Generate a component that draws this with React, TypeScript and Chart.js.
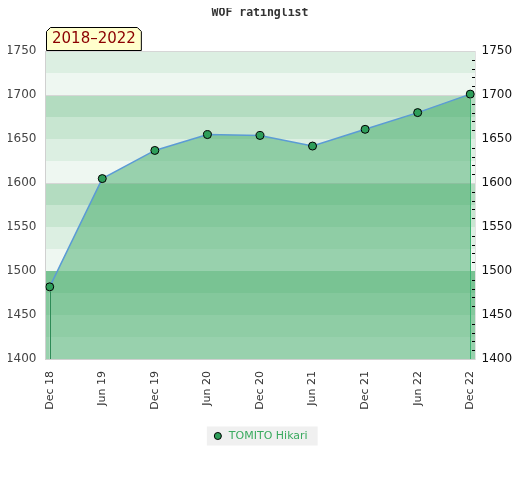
import React, { useEffect, useRef } from 'react';
import { Chart, registerables } from 'chart.js';

Chart.register(...registerables);

// ---- data ----
const categories = ['Dec 18', 'Jun 19', 'Dec 19', 'Jun 20', 'Dec 20', 'Jun 21', 'Dec 21', 'Jun 22', 'Dec 22'];
const ratings = [1482, 1605, 1637, 1655, 1654, 1642, 1661, 1680, 1701];
const seriesName = 'TOMITO Hikari';
const chartTitle = 'WOF ratinglist';
const periodLabel = '2018\u20132022';
const yMin = 1400;
const yMax = 1750;
const yStep = 50;
const threshold = 1500;

// ---- styles ----
const FONT = "'DejaVu Sans', sans-serif";
const BAND_COLORS = ['#eef7f1', '#dcefe2', '#c8e6d1', '#b3dcc0'];
const FILL = 'rgba(58,168,98,0.48)';
const LINE = '#5b9bd5';
const POINT = '#2e9e5a';

const bandPlugin = {
  id: 'bands',
  beforeDraw(chart: any) {
    const { ctx, chartArea, scales } = chart;
    const y = scales.y;
    const { left, right, bottom } = chartArea;
    ctx.save();
    for (let v = yMin; v < yMax; v += 25) {
      const top = Math.round(y.getPixelForValue(v + 25));
      const bot = Math.round(y.getPixelForValue(v));
      const idx = ((v - yMin) / 25) % 4;
      ctx.fillStyle = BAND_COLORS[idx];
      ctx.fillRect(left, top, right - left, bot - top);
    }
    // shade the zone below the threshold where the series area does not cover it
    const pts = chart.getDatasetMeta(0).data;
    if (pts.length) {
      const ty = Math.round(y.getPixelForValue(threshold));
      ctx.save();
      ctx.beginPath();
      ctx.rect(left, ty, right - left, bottom - ty);
      ctx.clip();
      ctx.beginPath();
      ctx.rect(left, ty, right - left, bottom - ty);
      ctx.moveTo(pts[0].x, bottom);
      pts.forEach((p: any) => ctx.lineTo(p.x, p.y));
      ctx.lineTo(pts[pts.length - 1].x, bottom);
      ctx.closePath();
      ctx.clip('evenodd');
      ctx.fillStyle = FILL;
      ctx.fillRect(left, ty, right - left, bottom - ty);
      ctx.restore();
    }
    // legend background
    const lg = chart.legend;
    if (lg && lg.legendHitBoxes && lg.legendHitBoxes.length) {
      const hb = lg.legendHitBoxes[0];
      const cy = hb.top + hb.height / 2;
      ctx.fillStyle = '#f0f0f0';
      ctx.fillRect(hb.left - 5.5, cy - 9.5, hb.width + 15.5, 19);
    }
    ctx.restore();
  },
  afterDatasetsDraw(chart: any) {
    const { ctx, chartArea, scales } = chart;
    const y = scales.y;
    const meta = chart.getDatasetMeta(0);
    const pts = meta.data;
    ctx.save();
    // drop lines
    const drop = (p: any, color: string) => {
      ctx.strokeStyle = color;
      ctx.lineWidth = 1;
      ctx.beginPath();
      const x = Math.round(p.x) + 0.5;
      ctx.moveTo(x, p.y + 4.5);
      ctx.lineTo(x, chartArea.bottom);
      ctx.stroke();
    };
    if (pts.length) {
      drop(pts[0], '#2e8b57');
      drop(pts[pts.length - 1], '#3cb371');
    }
    // minor ticks on the right edge
    ctx.strokeStyle = '#000';
    ctx.lineWidth = 1;
    for (let v = yMin + 10; v < yMax; v += 10) {
      if (v % yStep === 0) continue;
      const py = Math.round(y.getPixelForValue(v)) + 0.5;
      ctx.beginPath();
      ctx.moveTo(chartArea.right - 3.5, py);
      ctx.lineTo(chartArea.right - 0.5, py);
      ctx.stroke();
    }
    ctx.restore();
  },
  afterDraw(chart: any) {
    const { ctx, chartArea, width } = chart;
    ctx.save();
    // title
    ctx.font = "bold 11.5px 'DejaVu Sans Mono', monospace";
    ctx.fillStyle = '#333';
    ctx.textAlign = 'center';
    ctx.textBaseline = 'middle';
    ctx.fillText(chartTitle, width / 2, 5.5);
    // period label box
    ctx.font = `15px ${FONT}`;
    const tw = ctx.measureText(periodLabel).width;
    const bx = Math.round(chartArea.left) + 0.5;
    const bb = Math.round(chartArea.top) - 0.5;
    const bw = tw + 11;
    const bh = 23;
    const c = 4;
    ctx.beginPath();
    ctx.moveTo(bx, bb);
    ctx.lineTo(bx, bb - bh + c);
    ctx.lineTo(bx + c, bb - bh);
    ctx.lineTo(bx + bw - c, bb - bh);
    ctx.lineTo(bx + bw, bb - bh + c);
    ctx.lineTo(bx + bw, bb);
    ctx.closePath();
    ctx.fillStyle = '#ffffcc';
    ctx.fill();
    ctx.strokeStyle = '#000';
    ctx.lineWidth = 1;
    ctx.stroke();
    ctx.fillStyle = '#8b0000';
    ctx.textAlign = 'left';
    ctx.textBaseline = 'middle';
    ctx.fillText(periodLabel, bx + 5.5, bb - bh / 2 + 0.5);
    ctx.restore();
  },
};

export default function App() {
  const ref = useRef<HTMLCanvasElement>(null);
  useEffect(() => {
    if (!ref.current) return;
    const gridColor = (ctx: any) => {
      const v = ctx.tick && ctx.tick.value;
      return (v % 100 === 0 && v > threshold) || v === yMax ? '#d6d6d6' : 'rgba(0,0,0,0)';
    };
    const numLabel = (v: any) => String(v);
    const chart = new Chart(ref.current, {
      type: 'line',
      data: {
        datasets: [
          {
            label: seriesName,
            data: ratings.map((v, i) => ({ x: i, y: v })),
            borderColor: LINE,
            borderWidth: 1.5,
            pointRadius: 4,
            pointBackgroundColor: POINT,
            pointBorderColor: '#000',
            pointBorderWidth: 1,
            tension: 0,
            backgroundColor: FILL,
            fill: 'start',
          } as any,
        ],
      },
      options: {
        animation: false,
        responsive: true,
        maintainAspectRatio: false,
        layout: { padding: { top: 43, left: 0, right: 0, bottom: 20.5 } },
        plugins: {
          legend: {
            position: 'bottom',
            labels: {
              usePointStyle: true,
              pointStyle: 'circle',
              boxWidth: 11,
              boxHeight: 5,
              padding: 8,
              color: '#3aaa5f',
              font: { family: FONT, size: 11 },
            },
          },
          tooltip: { enabled: false },
          title: { display: false },
        },
        scales: {
          x: {
            type: 'linear',
            min: -0.08,
            max: 8.1,
            grid: { drawOnChartArea: false, drawTicks: false },
            border: { color: '#d0d0d0' },
            ticks: {
              stepSize: 1,
              includeBounds: false,
              autoSkip: false,
              maxRotation: 90,
              minRotation: 90,
              padding: 12,
              color: '#333',
              font: { family: FONT, size: 11 },
              callback: (v: any) => categories[v] ?? '',
            },
            afterFit: (s: any) => {
              s.height = 63.5;
            },
          },
          y: {
            position: 'left',
            min: yMin,
            max: yMax,
            grid: { color: gridColor, drawTicks: false },
            border: { color: '#d0d0d0' },
            ticks: {
              stepSize: yStep,
              padding: 9,
              color: '#444',
              font: { family: FONT, size: 12 },
              callback: numLabel,
            },
            afterFit: (s: any) => {
              s.width = 37.5;
            },
          },
          y2: {
            position: 'right',
            min: yMin,
            max: yMax,
            grid: { drawOnChartArea: false, drawTicks: false },
            border: { color: '#e2e2e2' },
            ticks: {
              stepSize: yStep,
              padding: 6,
              color: '#111',
              font: { family: FONT, size: 12 },
              callback: numLabel,
            },
            afterFit: (s: any) => {
              s.width = 36.5;
            },
          },
        },
      },
      plugins: [bandPlugin],
    });
    return () => chart.destroy();
  }, []);
  return (
    <div style={{ width: 504, height: 464, position: 'relative' }}>
      <canvas ref={ref} />
    </div>
  );
}
